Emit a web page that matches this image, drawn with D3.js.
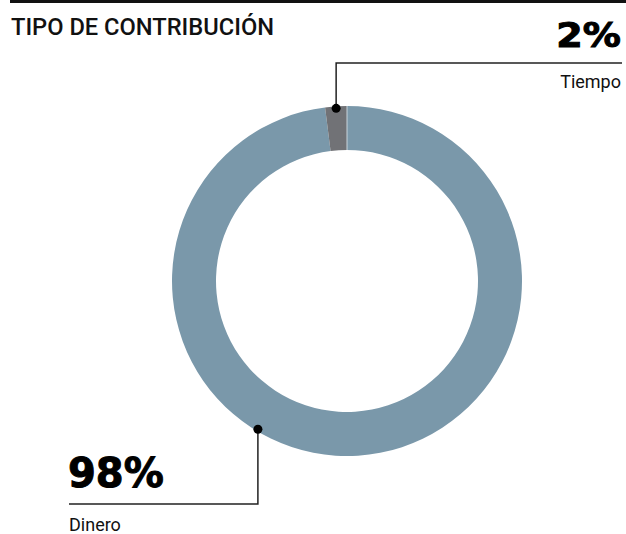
<!DOCTYPE html>
<html>
<head>
<meta charset="utf-8">
<script src="https://cdn.jsdelivr.net/npm/d3@7"></script>
<style>
  html, body { margin: 0; padding: 0; background: #fff; }
  svg { display: block; }
</style>
</head>
<body>
<svg id="chart" width="626" height="534"></svg>
<script>
// Contribution type shares
const categories = ["Dinero", "Tiempo"];
const shares = [98, 2];
const labels = ["98%", "2%"];
const colors = ["#7a98aa", "#717276"];

const svg = d3.select("#chart");
const W = 626;
const cx = 347, cy = 281;
const rOuter = 175, rInner = 131;

// Top rule
svg.append("rect").attr("x", 10).attr("y", 0).attr("width", W - 10).attr("height", 3).attr("fill", "#111");

// Title
svg.append("text")
  .attr("x", 11).attr("y", 35)
  .attr("font-family", "Roboto, 'Liberation Sans', sans-serif")
  .attr("font-weight", 500)
  .attr("font-size", 23)
  .attr("textLength", 263).attr("lengthAdjust", "spacingAndGlyphs")
  .attr("fill", "#111")
  .text("TIPO DE CONTRIBUCIÓN");

const data = categories.map((c, i) => ({ cat: c, value: shares[i], label: labels[i], color: colors[i] }));

const pie = d3.pie().sort(null).value(d => d.value);
const arc = d3.arc().innerRadius(rInner).outerRadius(rOuter);
const arcs = pie(data);

const g = svg.append("g").attr("transform", `translate(${cx},${cy})`);
g.selectAll("path.slice")
  .data(arcs)
  .join("path")
  .attr("class", "slice")
  .attr("d", arc)
  .attr("fill", d => d.data.color);

// Thin light divider where the first slice begins (top of the ring)
g.append("line")
  .attr("x1", 0).attr("y1", -rInner)
  .attr("x2", 0).attr("y2", -rOuter)
  .attr("stroke", "#c9d3da").attr("stroke-width", 1);

const pt = (angle, r) => [cx + Math.sin(angle) * r, cy - Math.cos(angle) * r];

const bigFont = "'DejaVu Sans', sans-serif";
const smallFont = "Roboto, 'Liberation Sans', sans-serif";

// Callout for Tiempo: dot at the middle of its slice on the outer edge
const tA = (arcs[1].startAngle + arcs[1].endAngle) / 2;
const [tx, ty] = pt(tA, rOuter - 2);
svg.append("path")
  .attr("d", `M${tx},${ty} V63 H622`)
  .attr("fill", "none").attr("stroke", "#222").attr("stroke-width", 1.5);
svg.append("circle").attr("cx", tx).attr("cy", ty).attr("r", 4.5).attr("fill", "#000");
svg.append("text")
  .attr("transform", "translate(621,47) scale(1.12,1)")
  .attr("text-anchor", "end")
  .attr("font-family", bigFont).attr("font-weight", 700)
  .attr("font-size", 34)
  .attr("fill", "#000").attr("stroke", "#000").attr("stroke-width", 1)
  .text(data[1].label);
svg.append("text")
  .attr("x", 621).attr("y", 88).attr("text-anchor", "end")
  .attr("font-family", smallFont)
  .attr("font-size", 18).attr("fill", "#111")
  .text(data[1].cat);

// Callout for Dinero: dot on the lower-left outer edge
const dA = Math.PI * 211 / 180;
const [dx, dy] = pt(dA, rOuter - 2);
svg.append("path")
  .attr("d", `M${dx},${dy} V504 H69`)
  .attr("fill", "none").attr("stroke", "#222").attr("stroke-width", 1.5);
svg.append("circle").attr("cx", dx).attr("cy", dy).attr("r", 4.5).attr("fill", "#000");
svg.append("text")
  .attr("x", 68).attr("y", 487)
  .attr("font-family", bigFont).attr("font-weight", 700)
  .attr("font-size", 40)
  .attr("fill", "#000").attr("stroke", "#000").attr("stroke-width", 1)
  .text(data[0].label);
svg.append("text")
  .attr("x", 69).attr("y", 531)
  .attr("font-family", smallFont)
  .attr("font-size", 18).attr("fill", "#111")
  .text(data[0].cat);
</script>
</body>
</html>
